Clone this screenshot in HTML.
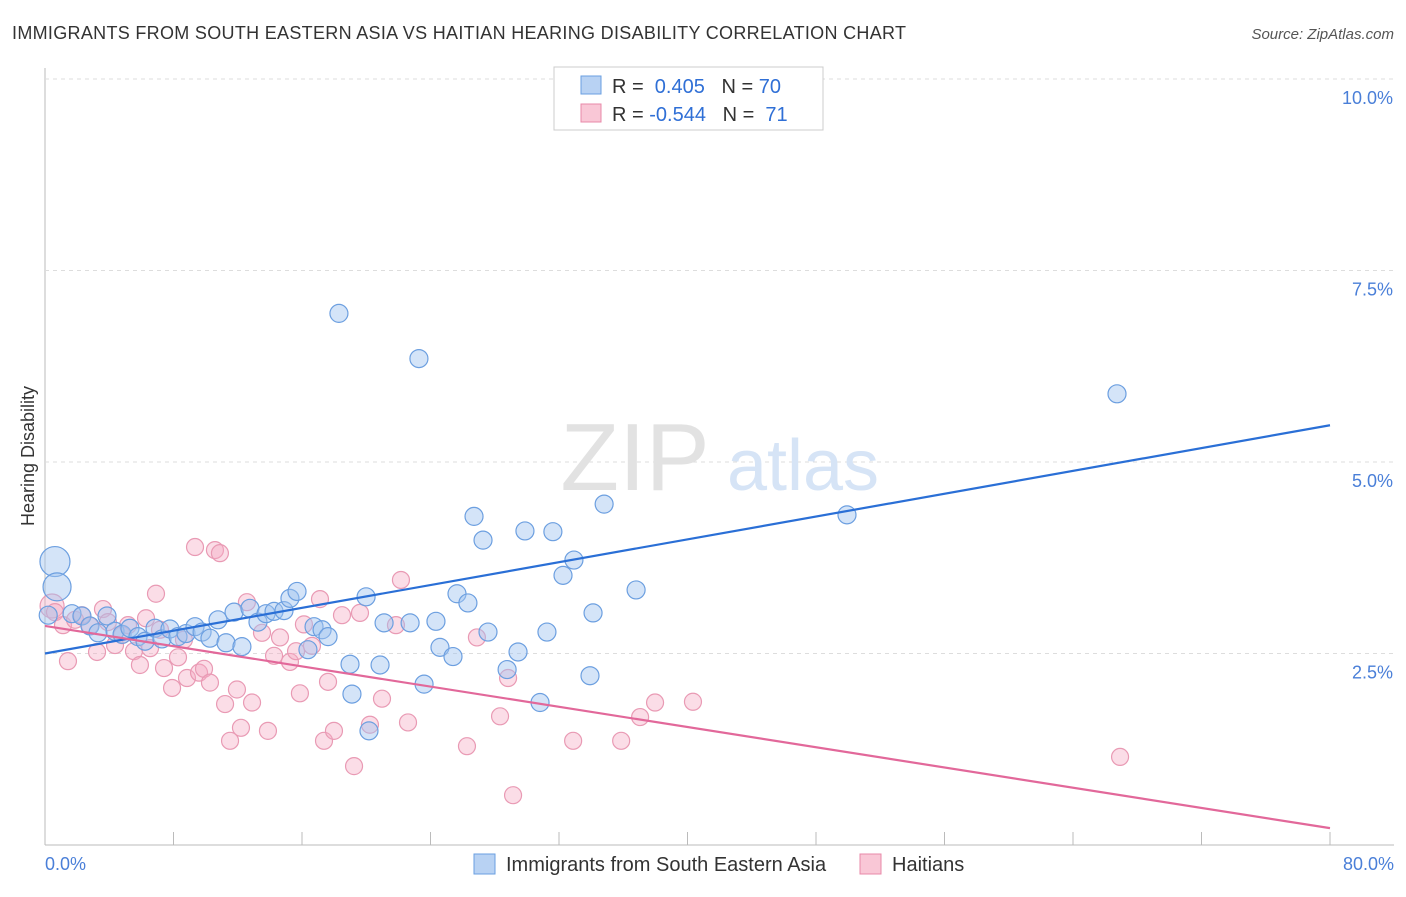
<!DOCTYPE html>
<html><head><meta charset="utf-8"><style>
body{margin:0;background:#fff;font-family:"Liberation Sans",sans-serif;}
svg text{font-family:"Liberation Sans",sans-serif;}
</style></head><body>
<svg id="chart" width="1406" height="892">
<text x="12" y="39" font-size="18" fill="#333" textLength="894">IMMIGRANTS FROM SOUTH EASTERN ASIA VS HAITIAN HEARING DISABILITY CORRELATION CHART</text>
<text x="1394" y="39" font-size="15" fill="#555" text-anchor="end" font-style="italic">Source: ZipAtlas.com</text>
<text x="34" y="456" font-size="18" fill="#333" text-anchor="middle" transform="rotate(-90 34 456)">Hearing Disability</text>
<g id="grid"></g>
<g><text x="635" y="490" font-size="96" fill="#e2e2e2" font-family="Liberation Serif" text-anchor="middle">ZIP</text><text x="803" y="490" font-size="72" fill="#d6e4f6" text-anchor="middle">atlas</text></g>
<g id="marks"></g>
<g>
<rect x="554" y="67" width="269" height="63" fill="#fff" stroke="#ccc"/>
<rect x="581" y="76" width="20" height="18" fill="#b8d2f3" stroke="#6a9fe0"/>
<rect x="581" y="104" width="20" height="18" fill="#f9c7d6" stroke="#e888a8"/>
<text x="612" y="93" font-size="20" fill="#333">R = <tspan fill="#2f6fd6">&#160;0.405</tspan>&#160;&#160;&#160;N = <tspan fill="#2f6fd6">70</tspan></text>
<text x="612" y="121" font-size="20" fill="#333">R = <tspan fill="#2f6fd6">-0.544</tspan>&#160;&#160;&#160;N = <tspan fill="#2f6fd6">&#160;71</tspan></text>
</g>
<g>
<rect x="474" y="854" width="21" height="20" fill="#b8d2f3" stroke="#6a9fe0"/>
<text x="506" y="871" font-size="20" fill="#333">Immigrants from South Eastern Asia</text>
<rect x="860" y="854" width="21" height="20" fill="#f9c7d6" stroke="#e888a8"/>
<text x="892" y="871" font-size="20" fill="#333">Haitians</text>
</g>
</svg>
<script>
const xTicks=[0,10,20,30,40,50,60,70,80];
const yTicks=[2.5,5.0,7.5,10.0];
const blueX=[0.62,0.75,1.68,2.30,2.80,3.30,3.86,4.36,4.80,5.29,5.79,6.23,6.85,7.28,7.78,8.28,8.78,9.34,9.78,10.27,10.77,11.27,11.77,12.26,12.76,13.26,13.76,14.26,14.88,15.25,15.69,16.37,16.75,17.25,17.62,18.30,18.99,19.11,19.99,20.17,20.86,21.11,22.73,23.28,23.60,24.34,24.59,25.40,25.65,26.33,26.71,27.27,27.58,28.77,29.45,29.88,30.82,31.25,31.62,32.25,32.93,33.93,34.12,34.81,36.80,43.14,49.93,66.74,0.2];
const blueY=[3.70,3.37,3.02,2.99,2.86,2.77,2.99,2.79,2.75,2.83,2.72,2.66,2.83,2.69,2.82,2.72,2.76,2.85,2.78,2.70,2.94,2.64,3.04,2.59,3.09,2.91,3.02,3.05,3.06,3.22,3.31,2.55,2.85,2.81,2.72,6.94,2.36,1.97,3.24,1.49,2.35,2.90,2.90,6.35,2.10,2.92,2.58,2.46,3.28,3.16,4.29,3.98,2.78,2.29,2.52,4.10,1.86,2.78,4.09,3.52,3.72,2.21,3.03,4.45,3.33,9.49,4.31,5.89,3.0];
const blueR=[15,14,9,9,9,9,9,9,9,9,9,9,9,9,9,9,9,9,9,9,9,9,9,9,9,9,9,9,9,9,9,9,9,9,9,9,9,9,9,9,9,9,9,9,9,9,9,9,9,9,9,9,9,9,9,9,9,9,9,9,9,9,9,9,9,9,9,9,9];
const pinkX=[0.44,0.62,1.12,1.43,1.87,2.30,2.80,3.24,3.61,3.92,4.36,4.80,5.17,5.54,5.91,6.29,6.54,6.91,7.16,7.41,7.91,8.28,8.65,8.84,9.34,9.59,9.90,10.27,10.58,10.89,11.21,11.52,11.95,12.20,12.57,12.89,13.51,13.88,14.26,14.63,15.25,15.63,15.87,16.12,16.62,17.12,17.37,17.62,17.99,18.49,19.24,19.61,20.23,20.98,21.85,22.16,22.60,26.27,26.89,28.33,28.83,29.14,32.88,35.87,37.05,37.98,40.34,66.93];
const pinkY=[3.12,3.04,2.87,2.40,2.94,3.00,2.86,2.52,3.08,2.91,2.61,2.74,2.87,2.53,2.35,2.96,2.57,3.28,2.81,2.31,2.05,2.45,2.68,2.18,3.89,2.25,2.30,2.12,3.85,3.81,1.84,1.36,2.03,1.53,3.17,1.86,2.77,1.49,2.47,2.71,2.39,2.53,1.98,2.88,2.60,3.21,1.36,2.13,1.49,3.00,1.03,3.03,1.57,1.91,2.87,3.46,1.60,1.29,2.71,1.68,2.18,0.65,1.36,1.36,1.67,1.86,1.87,1.15];
const blueLine=[2.5,5.48];
const pinkLine=[2.86,0.22];
const L=45,R=1330,B=845,T=79;
const xs=v=>L+(v/80)*(R-L);
const ys=v=>B-(v/10)*(B-T);
const NS='http://www.w3.org/2000/svg';
const grid=document.getElementById('grid'),marks=document.getElementById('marks');
function mk(tag,attrs,parent){const e=document.createElementNS(NS,tag);for(const k in attrs)e.setAttribute(k,attrs[k]);parent.appendChild(e);return e;}
let ax=mk('line',{x1:L,y1:68,x2:L,y2:B,stroke:'#bbb'},grid);


let bx=mk('line',{x1:L,y1:B,x2:1394,y2:B,stroke:'#bbb'},grid);


yTicks.forEach(t=>{
 let g=mk('line',{x1:L,y1:ys(t),x2:1394,y2:ys(t),stroke:'#ddd','stroke-dasharray':'4,4'},grid);
 
 
 let tx=mk('text',{x:1393,y:ys(t)+25,'font-size':18,fill:'#4a7fd8','text-anchor':'end'},grid);
 tx.textContent=t.toFixed(1)+'%';
 
 
});
mk('line',{x1:L,y1:T,x2:1394,y2:T,stroke:'#ddd','stroke-dasharray':'4,4'},grid);
for(let i=0;i<=10;i++){let x=L+i*(R-L)/10;let tk=mk('line',{x1:x,y1:832,x2:x,y2:B,stroke:'#bbb'},grid);
 
 }
[[0,'0.0%','start',45],[80,'80.0%','end',1394]].forEach(([v,s,a,x])=>{let t=mk('text',{x:x,y:870,'font-size':18,fill:'#4a7fd8','text-anchor':a},grid);t.textContent=s;
 
 });
pinkX.forEach((v,i)=>{let c=mk('circle',{cx:xs(v),cy:ys(pinkY[i]),r:i==0?12:8.5,fill:'rgba(245,170,195,0.4)',stroke:'#e99ab4','stroke-width':1.2},marks);
 
 });
blueX.forEach((v,i)=>{let c=mk('circle',{cx:xs(v),cy:ys(blueY[i]),r:blueR[i]||9,fill:'rgba(160,195,240,0.45)',stroke:'#6c9fe0','stroke-width':1.2},marks);
 
 });
let bl=mk('line',{x1:xs(0),y1:ys(blueLine[0]),x2:xs(80),y2:ys(blueLine[1]),stroke:'#2a6fd6','stroke-width':2.2},marks);


let pl=mk('line',{x1:xs(0),y1:ys(pinkLine[0]),x2:xs(80),y2:ys(pinkLine[1]),stroke:'#e2689a','stroke-width':2.2},marks);


</script>
</body></html>
